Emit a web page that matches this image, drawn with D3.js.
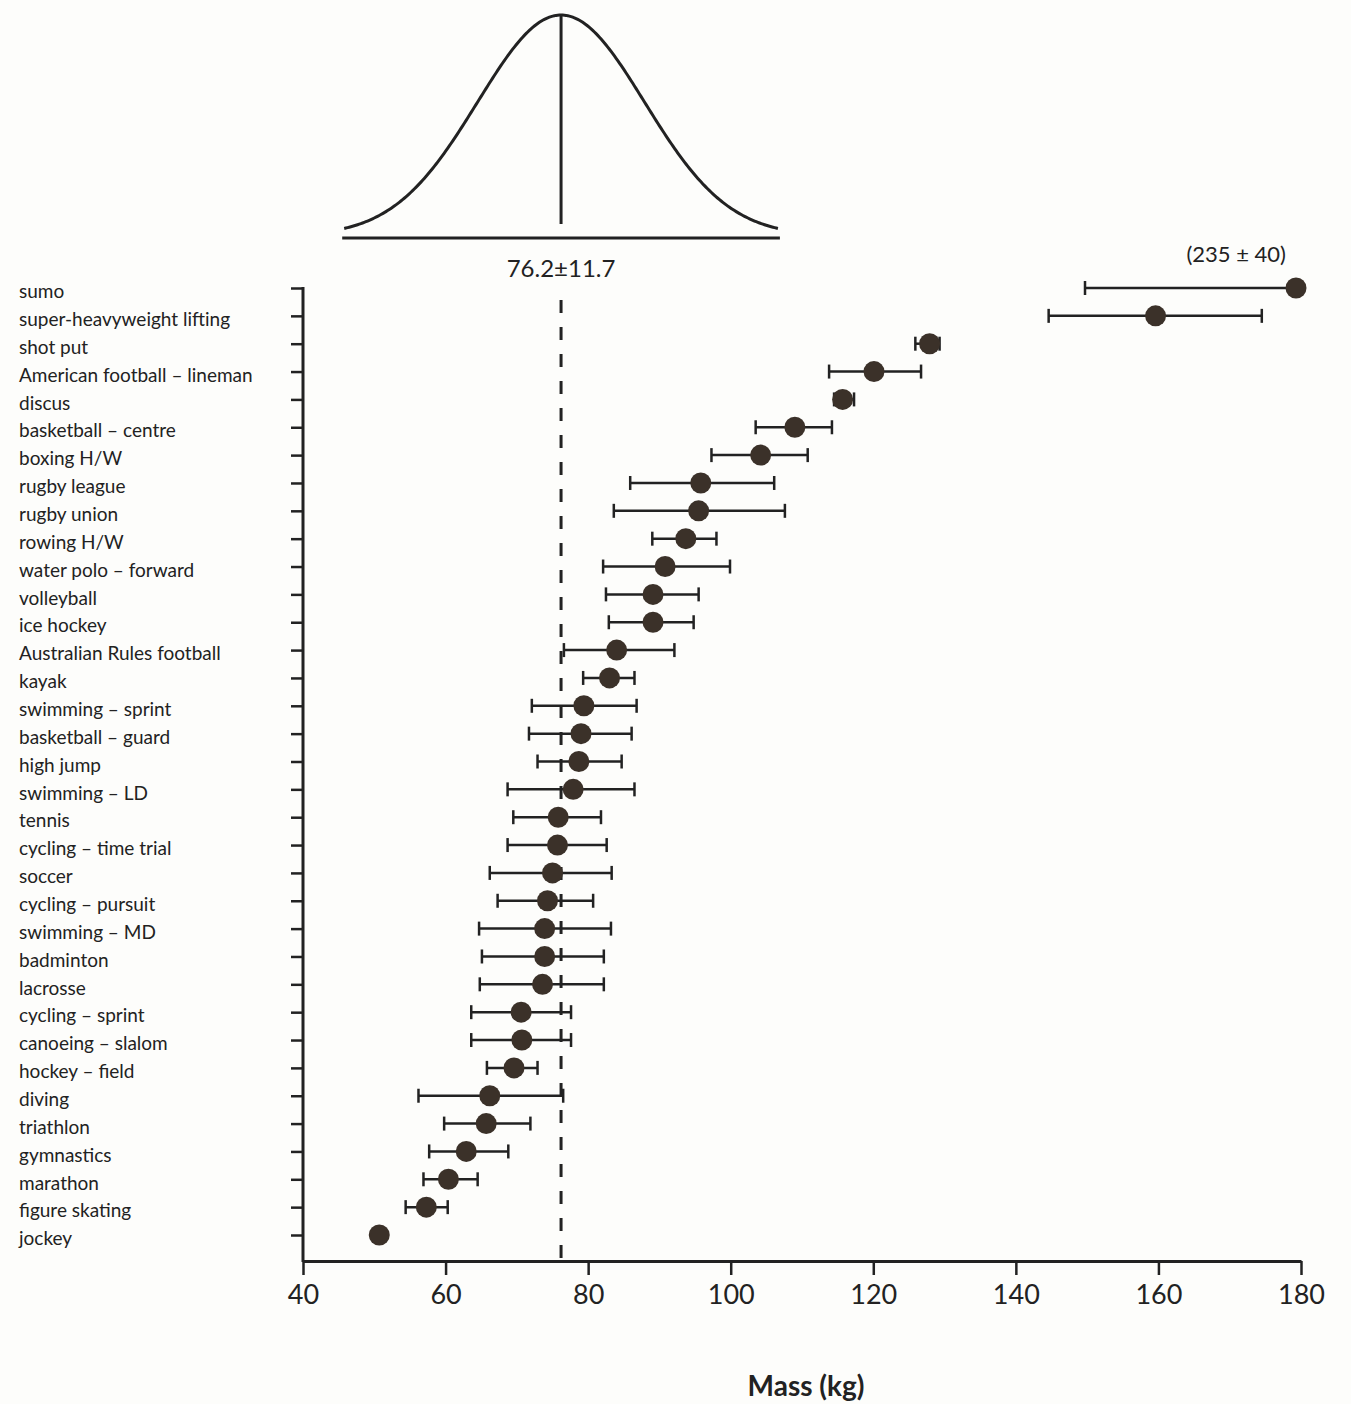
<!DOCTYPE html>
<html>
<head>
<meta charset="utf-8">
<script src="https://cdn.jsdelivr.net/npm/d3@7"></script>
<style>
  html, body { margin: 0; padding: 0; background: #fdfdfb; }
  svg { display: block; }
  text { font-family: Lato, "Open Sans", sans-serif; fill: #222; }
</style>
</head>
<body>
<svg id="chart" width="1351" height="1404"></svg>
<script>
const sports = ["sumo","super-heavyweight lifting","shot put","American football – lineman","discus",
  "basketball – centre","boxing H/W","rugby league","rugby union","rowing H/W","water polo – forward",
  "volleyball","ice hockey","Australian Rules football","kayak","swimming – sprint","basketball – guard",
  "high jump","swimming – LD","tennis","cycling – time trial","soccer","cycling – pursuit","swimming – MD",
  "badminton","lacrosse","cycling – sprint","canoeing – slalom","hockey – field","diving","triathlon",
  "gymnastics","marathon","figure skating","jockey"];
// plotted mean mass (kg) and error-bar ends
const means = [179.3,159.6,127.9,120.1,115.7,109.0,104.2,95.8,95.5,93.7,90.8,89.1,89.1,84.0,83.0,79.4,79.0,78.7,77.9,75.8,75.7,75.0,74.3,73.9,73.9,73.6,70.6,70.7,69.6,66.2,65.7,62.9,60.4,57.3,50.7];
const lows  = [149.7,144.6,125.9,113.8,114.5,103.5,97.3,85.9,83.6,89.0,82.1,82.5,82.9,76.6,79.3,72.1,71.7,72.9,68.7,69.5,68.7,66.2,67.3,64.7,65.1,64.8,63.6,63.6,65.8,56.2,59.8,57.7,56.9,54.4,50.7];
const highs = [179.3,174.5,129.3,126.7,117.3,114.2,110.8,106.1,107.6,98.0,99.9,95.5,94.8,92.1,86.5,86.8,86.1,84.7,86.5,81.8,82.6,83.3,80.7,83.2,82.2,82.2,77.6,77.6,72.9,76.5,71.9,68.8,64.5,60.3,51.6];
const xTicks = [40,60,80,100,120,140,160,180];
const popMean = 76.2, popSD = 11.7;
const meanLabel = "76.2±11.7";
const sumoLabel = "(235 ± 40)";
const xTitle = "Mass (kg)";

const svg = d3.select("#chart");
const ink = "#222";
const dotFill = "#3b3129";

const x = d3.scaleLinear().domain([40, 180]).range([303, 1301]);
const y = d3.scalePoint().domain(sports).range([288, 1235]);
const baseY = 1261;

// x axis
const xAxis = svg.append("g").attr("transform", `translate(0,${baseY})`)
  .call(d3.axisBottom(x).tickValues(xTicks).tickSize(14).tickSizeOuter(0).tickPadding(10).tickFormat(d3.format("d")));
xAxis.select(".domain").attr("stroke", ink).attr("stroke-width", 3);
xAxis.selectAll(".tick line").attr("stroke", ink).attr("stroke-width", 2.5);
xAxis.selectAll(".tick text").attr("font-size", 27).attr("fill", ink)
  .style("font-family", "Lato, sans-serif");

// y axis (ticks only; labels placed at far left)
const yAxis = svg.append("g").attr("transform", `translate(${x(40)},0)`)
  .call(d3.axisLeft(y).tickSize(12).tickSizeOuter(0).tickFormat(""));
yAxis.select(".domain").remove();
yAxis.selectAll(".tick line").attr("stroke", ink).attr("stroke-width", 2.5);
svg.append("line").attr("x1", x(40)).attr("x2", x(40))
  .attr("y1", y(sports[0]) - 1).attr("y2", baseY + 1)
  .attr("stroke", ink).attr("stroke-width", 3);

svg.append("g").selectAll("text").data(sports).join("text")
  .attr("x", 19).attr("y", d => y(d) + 3).attr("dy", "0.38em")
  .attr("font-size", 19).text(d => d);

// dashed mean line
svg.append("line").attr("x1", x(popMean)).attr("x2", x(popMean))
  .attr("y1", 300).attr("y2", baseY)
  .attr("stroke", ink).attr("stroke-width", 3).attr("stroke-dasharray", "13 14");

// error bars
const rows = sports.map((s, i) => ({s, m: means[i], lo: lows[i], hi: highs[i]}));
const eb = svg.append("g");
rows.forEach(r => {
  const cy = y(r.s);
  if (r.hi - r.lo > 0.5) {
    eb.append("line").attr("x1", x(r.lo)).attr("x2", x(r.hi)).attr("y1", cy).attr("y2", cy)
      .attr("stroke", ink).attr("stroke-width", 2.5);
  }
  [r.lo, r.hi].forEach(v => {
    if (Math.abs(v - r.m) > 0.3) {
      eb.append("line").attr("x1", x(v)).attr("x2", x(v)).attr("y1", cy - 7).attr("y2", cy + 7)
        .attr("stroke", ink).attr("stroke-width", 2.5);
    }
  });
});
svg.append("g").selectAll("circle").data(rows).join("circle")
  .attr("cx", d => x(d.m)).attr("cy", d => y(d.s)).attr("r", 10.5)
  .attr("fill", dotFill);

// sumo annotation
svg.append("text").attr("x", x(means[0]) - 10).attr("y", 262).attr("text-anchor", "end")
  .attr("font-size", 22).text(sumoLabel);

// normal distribution curve at top
const curveBase = 236, curveAmp = 221;
const zMax = 2.6;
const pts = d3.range(-zMax, zMax + 0.001, 0.02).map(z => [x(popMean + z * popSD), curveBase - curveAmp * Math.exp(-z * z / 2)]);
svg.append("path").attr("d", d3.line()(pts)).attr("fill", "none").attr("stroke", ink).attr("stroke-width", 3);
svg.append("line").attr("x1", x(popMean - zMax * popSD) - 2).attr("x2", x(popMean + zMax * popSD) + 2)
  .attr("y1", 238).attr("y2", 238).attr("stroke", ink).attr("stroke-width", 3);
svg.append("line").attr("x1", x(popMean)).attr("x2", x(popMean))
  .attr("y1", curveBase - curveAmp).attr("y2", 224).attr("stroke", ink).attr("stroke-width", 3);
svg.append("text").attr("x", x(popMean)).attr("y", 277).attr("text-anchor", "middle")
  .attr("font-size", 24).text(meanLabel);

// x title
svg.append("text").attr("x", 806).attr("y", 1396).attr("text-anchor", "middle")
  .attr("font-size", 28).attr("font-weight", "bold").text(xTitle);
</script>
</body>
</html>
